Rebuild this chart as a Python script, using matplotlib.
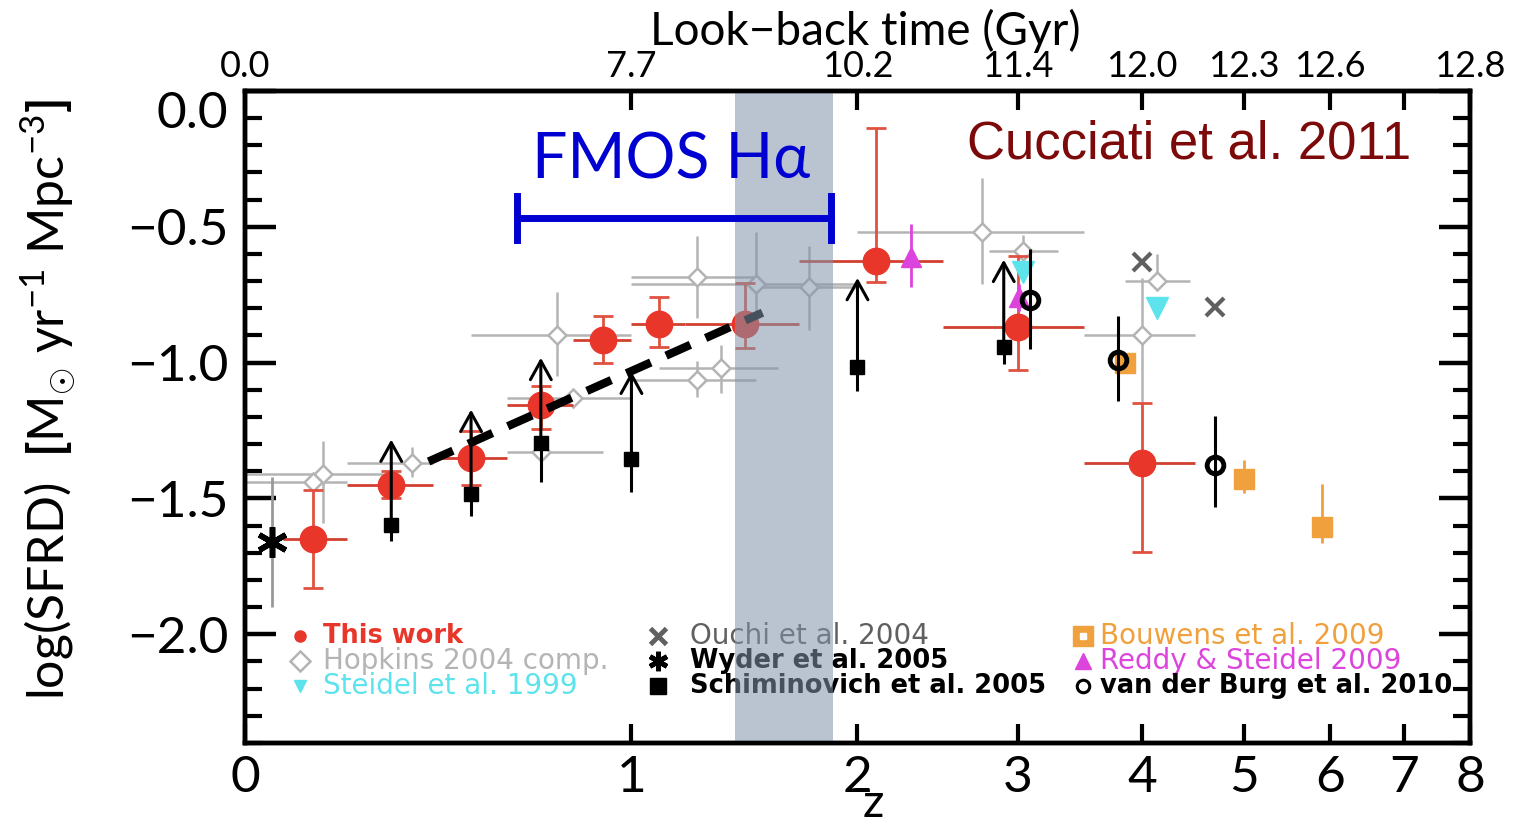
import numpy as np
import matplotlib
matplotlib.use('Agg')
import matplotlib.pyplot as plt
from matplotlib.ticker import MultipleLocator, NullLocator

plt.rcParams['font.family'] = ['Lato', 'DejaVu Sans']
plt.rcParams['mathtext.fontset'] = 'custom'
plt.rcParams['mathtext.rm'] = 'Lato'
plt.rcParams['mathtext.bf'] = 'Lato:bold'

# This work
tw_z = [0.13, 0.30, 0.50, 0.70, 0.90, 1.10, 1.45, 2.10, 3.00, 4.00]
tw_y = [-1.65, -1.45, -1.35, -1.155, -0.915, -0.857, -0.857, -0.625, -0.868, -1.368]
tw_zlo = [0.07, 0.20, 0.40, 0.60, 0.80, 1.00, 1.20, 1.70, 2.50, 3.50]
tw_zhi = [0.20, 0.40, 0.60, 0.80, 1.00, 1.20, 1.70, 2.50, 3.50, 4.50]
tw_up = [0.18, 0.05, 0.10, 0.07, 0.085, 0.10, 0.15, 0.49, 0.26, 0.22]
tw_dn = [0.18, 0.05, 0.10, 0.09, 0.085, 0.085, 0.09, 0.08, 0.16, 0.33]

# Hopkins 2004 compilation
hop_z = [0.15, 0.13, 0.35, 0.75, 0.80, 0.70, 1.25, 1.50, 1.75, 1.25, 1.35, 2.75, 3.04, 4.00, 4.13]
hop_y = [-1.41, -1.44, -1.37, -0.90, -1.13, -1.33, -0.685, -0.71, -0.72, -1.065, -1.02,
         -0.52, -0.59, -0.90, -0.70]
hop_zlo = [0.0, 0.0, 0.2, 0.5, 0.6, 0.6, 1.0, 1.0, 1.5, 1.0, 1.1, 2.0, 2.8, 3.5, 3.85]
hop_zhi = [0.28, 0.2, 0.4, 1.0, 1.0, 0.9, 1.5, 2.0, 2.0, 1.5, 1.6, 3.5, 3.3, 4.5, 4.45]
hop_up = [0.12, 0.0, 0.06, 0.16, 0.03, 0.03, 0.15, 0.19, 0.15, 0.07, 0.085, 0.20, 0.06, 0.21, 0.10]
hop_dn = [0.18, 0.0, 0.05, 0.15, 0.03, 0.03, 0.15, 0.13, 0.16, 0.06, 0.09, 0.19, 0.06, 0.25, 0.03]

ouchi_z = [4.0, 4.7]
ouchi_y = [-0.63, -0.795]

steidel_z = [3.04, 4.13]
steidel_y = [-0.665, -0.80]

reddy_z = [2.30, 3.01]
reddy_y = [-0.61, -0.76]
reddy_up = [0.12, 0.05]
reddy_dn = [0.11, 0.05]

vdb_z = [3.09, 3.79, 4.70]
vdb_y = [-0.77, -0.99, -1.375]
vdb_up = [0.19, 0.16, 0.18]
vdb_dn = [0.18, 0.15, 0.155]

bouw_z = [3.85, 5.0, 5.9]
bouw_y = [-1.0, -1.43, -1.605]
bouw_up = [0.03, 0.07, 0.16]
bouw_dn = [0.03, 0.05, 0.06]

schim_z = [0.3, 0.5, 0.7, 1.0, 2.0, 2.9]
schim_y = [-1.596, -1.485, -1.294, -1.353, -1.015, -0.941]
schim_dn = [0.06, 0.08, 0.145, 0.125, 0.09, 0.065]
schim_tip = [-1.283, -1.173, -0.982, -1.033, -0.688, -0.621]

wyder_z = [0.05]
wyder_y = [-1.66]
wyder_err = [0.24]

fit_z = [0.39, 1.53]
fit_y = [-1.364, -0.816]

fmos_z = [0.63, 1.86]
fmos_y = -0.467
band_z = [1.41, 1.87]

top_z = [0, 1, 2, 3, 4, 5, 6, 7, 8]
top_labels = ['0.0', '7.7', '10.2', '11.4', '12.0', '12.3', '12.6', '', '12.8']
yticks = [0.0, -0.5, -1.0, -1.5, -2.0]
ytick_labels = ['0.0', '\u22120.5', '\u22121.0', '\u22121.5', '\u22122.0']

RED = '#e8372a'
GRAY = '#b4b4b4'
CYAN = '#5de3ec'
MAGENTA = '#dd44dd'
ORANGE = '#f0a03c'


def fwd(z):
    return np.log10(1 + np.asarray(z, dtype=float))


def inv(u):
    return 10 ** np.asarray(u, dtype=float) - 1


fig = plt.figure(figsize=(15.17, 8.27), dpi=100)
ax = fig.add_axes([0.1615, 0.1016, 0.8075, 0.7884])
ax.set_xscale('function', functions=(fwd, inv))
ax.set_xlim(0, 8)
ax.set_ylim(-2.4, 0.0)

# Hopkins compilation
hz = np.array(hop_z)
hy = np.array(hop_y)
ax.errorbar(hz, hy, xerr=[hz - np.array(hop_zlo), np.array(hop_zhi) - hz],
            yerr=[hop_dn, hop_up], fmt='D', ms=9, mfc='white', mec=GRAY, mew=1.8,
            ecolor=GRAY, elinewidth=1.8, capsize=0, zorder=2)

# Wyder
ax.errorbar(wyder_z, wyder_y, yerr=wyder_err, fmt='none', ecolor='#999999',
            elinewidth=2, zorder=2)
ax.plot(wyder_z, wyder_y, marker=(6, 2, 0), ms=22, mew=4, color='k',
        ls='none', zorder=5)

# Schiminovich squares with dust-corrected arrows
ax.errorbar(schim_z, schim_y, yerr=[schim_dn, [0] * len(schim_z)], fmt='s', ms=10,
            color='k', elinewidth=2.2, capsize=0, zorder=4)
for z, y0, y1 in zip(schim_z, schim_y, schim_tip):
    ax.annotate('', xy=(z, y1), xytext=(z, y0),
                arrowprops=dict(arrowstyle='->,head_length=0.45,head_width=0.25',
                                lw=2.2, color='k', mutation_scale=30,
                                shrinkA=0, shrinkB=0), zorder=4)

# This work
tz = np.array(tw_z)
ax.errorbar(tz, tw_y, xerr=[tz - np.array(tw_zlo), np.array(tw_zhi) - tz],
            fmt='none', ecolor='#d2402f', elinewidth=2, capsize=0, zorder=3)
ax.errorbar(tz, tw_y, yerr=[tw_dn, tw_up], fmt='o', ms=19, color=RED,
            ecolor='#e0523f', elinewidth=2, capsize=7, capthick=2, zorder=3)

ax.plot(ouchi_z, ouchi_y, 'x', ms=13, mew=3, color='#606060', zorder=5)
ax.plot(steidel_z, steidel_y, 'v', ms=16, color=CYAN, zorder=6)
ax.errorbar(reddy_z, reddy_y, yerr=[reddy_dn, reddy_up], fmt='^', ms=15,
            color=MAGENTA, elinewidth=2, capsize=0, zorder=5)
ax.errorbar(bouw_z, bouw_y, yerr=[bouw_dn, bouw_up], fmt='s', ms=15,
            color=ORANGE, elinewidth=2, capsize=0, zorder=5)
ax.plot(bouw_z, bouw_y, 's', ms=4, color='white', zorder=5)
ax.errorbar(vdb_z, vdb_y, yerr=[vdb_dn, vdb_up], fmt='o', ms=12, mfc='none',
            mec='k', mew=3.5, ecolor='k', elinewidth=2.2, capsize=0, zorder=7)

# fit to the low-z points
ax.plot(fit_z, fit_y, color='k', lw=6, ls=(0, (3.2, 2.0)), zorder=8)

# FMOS coverage
ax.axvspan(band_z[0], band_z[1], color=(128 / 255, 148 / 255, 170 / 255),
           alpha=0.55, lw=0, zorder=10)
ax.plot(fmos_z, [fmos_y, fmos_y], color='#0000d0', lw=5, zorder=11)
for z in fmos_z:
    ax.plot([z, z], [fmos_y - 0.08, fmos_y + 0.08], color='#0000d0', lw=5, zorder=11)
ax.text(0.348, 0.893, 'FMOS H\u03b1', transform=ax.transAxes, color='#0000d0',
        fontsize=45, ha='center', va='center', zorder=11)
ax.text(0.771, 0.918, 'Cucciati et al. 2011', transform=ax.transAxes,
        color='#7d0a0a', fontsize=38, family=['Liberation Sans', 'DejaVu Sans'],
        ha='center', va='center', zorder=11)

# legend
leg = [
    (0.045, 0.064, 0.164, 'This work', RED, 'bold', dict(marker='o', ms=8, color=RED)),
    (0.045, 0.064, 0.126, 'Hopkins 2004 comp.', GRAY, 'normal',
     dict(marker='D', ms=10, mfc='white', mec=GRAY, mew=1.8)),
    (0.045, 0.064, 0.087, 'Steidel et al. 1999', CYAN, 'normal',
     dict(marker='v', ms=9, color=CYAN)),
    (0.337, 0.363, 0.164, 'Ouchi et al. 2004', '#606060', 'normal',
     dict(marker='x', ms=11, mew=3.5, color='#606060')),
    (0.337, 0.363, 0.126, 'Wyder et al. 2005', 'k', 'bold',
     dict(marker=(6, 2, 0), ms=14, mew=3.5, color='k')),
    (0.337, 0.363, 0.087, 'Schiminovich et al. 2005', 'k', 'bold',
     dict(marker='s', ms=12, color='k')),
    (0.684, 0.698, 0.164, 'Bouwens et al. 2009', ORANGE, 'normal',
     dict(marker='s', ms=15, color=ORANGE)),
    (0.684, 0.698, 0.126, 'Reddy & Steidel 2009', MAGENTA, 'normal',
     dict(marker='^', ms=12, color=MAGENTA)),
    (0.684, 0.698, 0.087, 'van der Burg et al. 2010', 'k', 'bold',
     dict(marker='o', ms=9, mfc='none', mec='k', mew=2.2)),
]
for xs, xt, yy, label, col, wt, mk in leg:
    ax.plot([xs], [yy], transform=ax.transAxes, ls='none', clip_on=False,
            zorder=4, **mk)
    ax.text(xt, yy, label, transform=ax.transAxes, color=col,
            fontsize=20 if wt == 'normal' else 18.5,
            family='DejaVu Sans', weight=wt, ha='left', va='center', zorder=4)
ax.plot([0.684], [0.164], 's', ms=4, color='white', transform=ax.transAxes,
        clip_on=False, zorder=4)

# axes styling
for sp in ax.spines.values():
    sp.set_linewidth(3.2)
ax.set_xticks(range(0, 9))
ax.set_xticklabels([str(i) for i in range(0, 9)])
ax.xaxis.set_minor_locator(NullLocator())
ax.set_yticks(yticks)
ax.set_yticklabels(ytick_labels)
ax.get_yticklabels()[0].set_verticalalignment('top')
ax.yaxis.set_minor_locator(MultipleLocator(0.1))
ax.tick_params(axis='x', which='major', direction='in', length=14, width=3,
               labelsize=37, pad=9, top=False)
ax.tick_params(axis='y', which='major', direction='in', length=22, width=3.2,
               labelsize=37, pad=12, right=True)
ax.tick_params(axis='y', which='minor', direction='in', length=12, width=3,
               right=True)
ax.set_xlabel('z', fontsize=34)
ax.xaxis.set_label_coords(0.513, -0.062)
ax.set_ylabel(r'log(SFRD)  $\mathbf{[}$M$_{\odot}$ yr$^{-1}$ Mpc$^{-3}$$\mathbf{]}$',
              fontsize=36)
ax.yaxis.set_label_coords(-0.137, 0.526)

ax2 = ax.twiny()
ax2.set_xscale('function', functions=(fwd, inv))
ax2.set_xlim(0, 8)
ax2.set_xticks(top_z)
ax2.set_xticklabels(top_labels)
ax2.xaxis.set_minor_locator(NullLocator())
ax2.tick_params(axis='x', direction='in', length=14, width=3, labelsize=26, pad=6)
for sp in ax2.spines.values():
    sp.set_linewidth(3.2)
ax2.set_xlabel('Look\u2212back time (Gyr)', fontsize=33)
ax2.xaxis.set_label_coords(0.506, 1.071)

fig.savefig('out.png', dpi=100)
